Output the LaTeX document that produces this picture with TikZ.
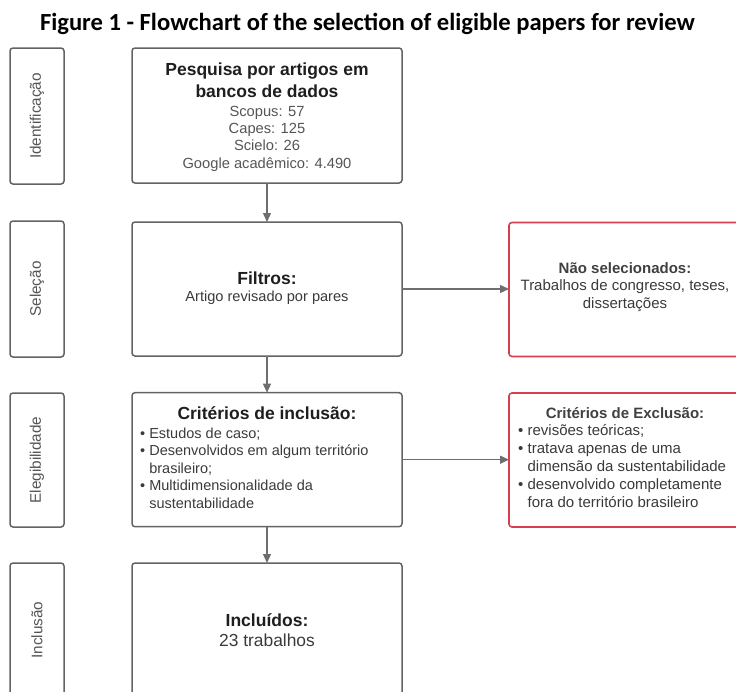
\documentclass[tikz,border=0pt]{standalone}
\usepackage{fontspec}
\setmainfont{Liberation Sans}
\newfontfamily\titlefont{Carlito}
\usetikzlibrary{arrows.meta}
\definecolor{boxgray}{HTML}{636363}
\definecolor{arrowgray}{HTML}{6E6E6E}
\definecolor{redline}{HTML}{D4404D}
\definecolor{headtxt}{HTML}{1E1E1E}
\definecolor{bodytxt}{HTML}{3A3A3A}
\definecolor{lighttxt}{HTML}{555555}
\begin{document}
\begin{tikzpicture}[x=1pt,y=-1pt,
  stagebox/.style={draw=boxgray,line width=1.5pt,rounded corners=3pt,inner sep=0pt,outer sep=0pt,minimum width=54pt},
  mainbox/.style={draw=boxgray,line width=1.5pt,rounded corners=3pt,inner sep=0pt,outer sep=0pt,minimum width=270pt,minimum height=134pt},
  redbox/.style={draw=redline,line width=1.6pt,rounded corners=3pt,inner sep=0pt,outer sep=0pt,minimum width=232pt,minimum height=134pt},
  stagelabel/.style={rotate=90,text=lighttxt,font=\fontsize{15.3}{17}\selectfont,inner sep=0pt},
  headtext/.style={text=headtxt,font=\fontsize{17.5}{22}\selectfont\bfseries,align=center,inner sep=0pt},
  bodytext/.style={text=bodytxt,font=\fontsize{14.6}{17.5}\selectfont,inner sep=0pt},
  flow/.style={draw=arrowgray,line width=1.3pt,-{Triangle[length=9pt,width=8pt]}}
]
\useasboundingbox (0,0) rectangle (736,691);

% title
\node[font=\titlefont\fontsize{24.6}{28}\selectfont\bfseries,inner sep=0pt] (title) at (367.5,24) {Figure 1 - Flowchart of the selection of eligible papers for review};

% stage boxes
\node[stagebox,minimum height=136pt] (s1) at (37,116) {};
\node[stagebox,minimum height=136pt] (s2) at (37,289) {};
\node[stagebox,minimum height=134pt] (s3) at (37,460) {};
\node[stagebox,minimum height=134pt] (s4) at (37,630) {};
\node[stagelabel] (l1) at (37,116) {Identificação};
\node[stagelabel] (l2) at (37,289) {Seleção};
\node[stagelabel] (l3) at (37,460) {Elegibilidade};
\node[stagelabel] (l4) at (37,630) {Inclusão};

% main boxes
\node[mainbox,minimum height=135pt] (b1) at (267,115.5) {};
\node[mainbox] (b2) at (267,289) {};
\node[mainbox] (b3) at (267,459.7) {};
\node[mainbox] (b4) at (267,630) {};

% red boxes
\node[redbox] (r1) at (625,289.5) {};
\node[redbox] (r2) at (625,460) {};

% texts box 1
\node[headtext] (t1a) at (267,80.5) {Pesquisa por artigos em\\bancos de dados};
\node[bodytext,text=lighttxt,align=center,font=\fontsize{14.7}{17.3}\selectfont] (t1b) at (267,138.5) {Scopus: 57\\Capes: 125\\Scielo: 26\\Google acadêmico: 4.490};

% box 2
\node[headtext] (t2a) at (267,278) {Filtros:};
\node[bodytext] (t2b) at (267,298) {Artigo revisado por pares};

% box 3
\node[headtext] (t3a) at (267,413) {Critérios de inclusão:};
\node[bodytext,align=left,anchor=west,font=\fontsize{14.5}{17.5}\selectfont] (t3b) at (140,468) {• Estudos de caso;\\• Desenvolvidos em algum território\\\phantom{• }brasileiro;\\• Multidimensionalidade da\\\phantom{• }sustentabilidade};

% box 4
\node[headtext] (t4a) at (267,620) {Incluídos:};
\node[bodytext,font=\fontsize{17.4}{20}\selectfont] (t4b) at (267,640) {23 trabalhos};

% red box 1
\node[bodytext,font=\fontsize{15}{17}\selectfont\bfseries,text=headtxt!85!white] (u1a) at (625,268) {Não selecionados:};
\node[bodytext,align=center,font=\fontsize{15}{17.5}\selectfont] (u1b) at (625,295.5) {Trabalhos de congresso, teses,\\dissertações};

% red box 2
\node[bodytext,font=\fontsize{15}{17}\selectfont\bfseries,text=headtxt!85!white] (u2a) at (625,413) {Critérios de Exclusão:};
\node[bodytext,align=left,anchor=west,font=\fontsize{15}{18}\selectfont] (u2b) at (518,466) {• revisões teóricas;\\• tratava apenas de uma\\\phantom{• }dimensão da sustentabilidade\\• desenvolvido completamente\\\phantom{• }fora do território brasileiro};

% connectors
\draw[flow] (b1.south) -- (b2.north);
\draw[flow] (b2.south) -- (b3.north);
\draw[flow] (b3.south) -- (b4.north);
\draw[flow] (b2.east) -- (r1.west |- b2.east);
\draw[flow] (b3.east) -- (r2.west |- b3.east);
\end{tikzpicture}
\end{document}
